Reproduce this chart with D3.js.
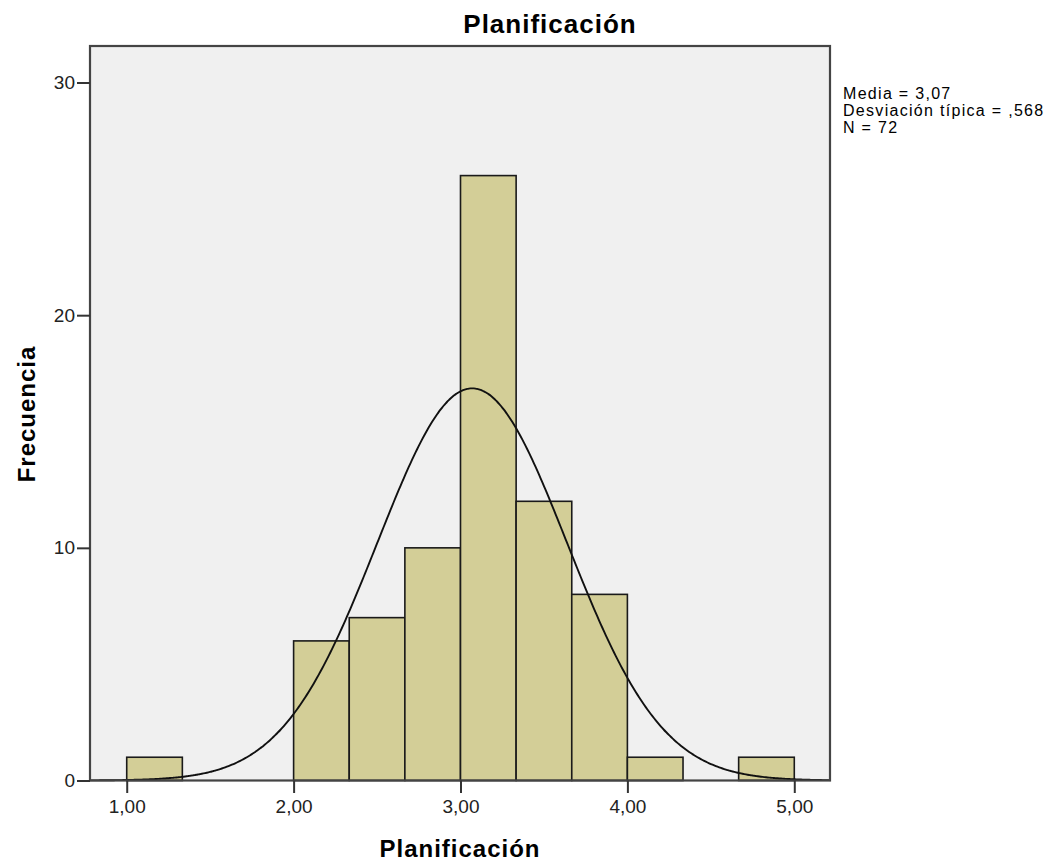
<!DOCTYPE html>
<html>
<head>
<meta charset="utf-8">
<script src="https://cdn.jsdelivr.net/npm/d3@7"></script>
<style>
  body { margin: 0; background: #fff; }
  text { font-family: "Liberation Sans", Arial, sans-serif; fill: #000; }
</style>
</head>
<body>
<svg width="1054" height="861"></svg>
<script>
// histogram bins (lower edge) and counts
const binStarts = [1, 2, 7/3, 8/3, 3, 10/3, 11/3, 4, 14/3];
const binWidth = 1/3;
const counts = [1, 6, 7, 10, 26, 12, 8, 1, 1];
const xTicks = [1, 2, 3, 4, 5];
const yTicks = [0, 10, 20, 30];
const statLines = ["Media = 3,07", "Desviación típica = ,568", "N = 72"];
const mean = 3.07, sd = 0.568, n = 72;

const svg = d3.select("svg");
const plotL = 90, plotR = 830, plotT = 46, plotB = 780.5;

const x = d3.scaleLinear().domain([0.78, 5.214]).range([plotL, plotR]);
const y = d3.scaleLinear().domain([0, 31.57]).range([plotB, plotT]);

// plot background
svg.append("rect")
  .attr("x", plotL).attr("y", plotT)
  .attr("width", plotR - plotL).attr("height", plotB - plotT)
  .style("fill", "#f0f0f0");

// bars
svg.selectAll("rect.bar")
  .data(counts)
  .enter()
  .append("rect")
  .attr("class", "bar")
  .attr("x", (d, i) => x(binStarts[i]))
  .attr("y", d => y(d))
  .attr("width", (d, i) => x(binStarts[i] + binWidth) - x(binStarts[i]))
  .attr("height", d => y(0) - y(d))
  .style("fill", "#d3ce97")
  .style("stroke", "#1a1a1a")
  .style("stroke-width", "1.6px");

// fitted normal curve
const curvePts = d3.range(0.78, 5.2141, 0.01).map(v => [v,
  n * binWidth / (sd * Math.sqrt(2 * Math.PI)) * Math.exp(-0.5 * ((v - mean) / sd) ** 2)]);
svg.append("path")
  .datum(curvePts)
  .attr("d", d3.line().x(d => x(d[0])).y(d => y(d[1])).curve(d3.curveBasis))
  .style("fill", "none")
  .style("stroke", "#111")
  .style("stroke-width", "1.9px");

// frame
svg.append("rect")
  .attr("x", plotL).attr("y", plotT)
  .attr("width", plotR - plotL).attr("height", plotB - plotT)
  .style("fill", "none")
  .style("stroke", "#444")
  .style("stroke-width", "2.2px");

// axes
const fmt = d => d.toFixed(2).replace(".", ",");
const xAxis = svg.append("g")
  .attr("transform", `translate(0,${plotB})`)
  .call(d3.axisBottom(x).tickValues(xTicks).tickFormat(fmt).tickSize(12.5).tickPadding(7));
const yAxis = svg.append("g")
  .attr("transform", `translate(${plotL},0)`)
  .call(d3.axisLeft(y).tickValues(yTicks).tickSize(13).tickPadding(2));
[xAxis, yAxis].forEach(a => {
  a.select(".domain").remove();
  a.selectAll("line").style("stroke", "#333").style("stroke-width", "2px");
  a.selectAll("text").style("font-size", "19px").style("fill", "#222")
    .style("font-family", "'Liberation Sans', Arial, sans-serif");
});

// titles
svg.append("text")
  .attr("x", 550).attr("y", 33)
  .attr("text-anchor", "middle")
  .style("font-size", "26px").style("font-weight", "bold")
  .style("letter-spacing", "1px")
  .text("Planificación");

svg.append("text")
  .attr("x", 460).attr("y", 857)
  .attr("text-anchor", "middle")
  .style("font-size", "24px").style("font-weight", "bold")
  .style("letter-spacing", "1px")
  .text("Planificación");

svg.append("text")
  .attr("transform", "translate(35,414) rotate(-90)")
  .attr("text-anchor", "middle")
  .style("font-size", "24px").style("font-weight", "bold")
  .style("letter-spacing", "1px")
  .text("Frecuencia");

// stats box
svg.append("g")
  .selectAll("text")
  .data(statLines)
  .enter()
  .append("text")
  .attr("x", 843)
  .attr("y", (d, i) => 99 + i * 17)
  .style("font-size", "16px")
  .style("letter-spacing", "1.3px")
  .text(d => d);
</script>
</body>
</html>
